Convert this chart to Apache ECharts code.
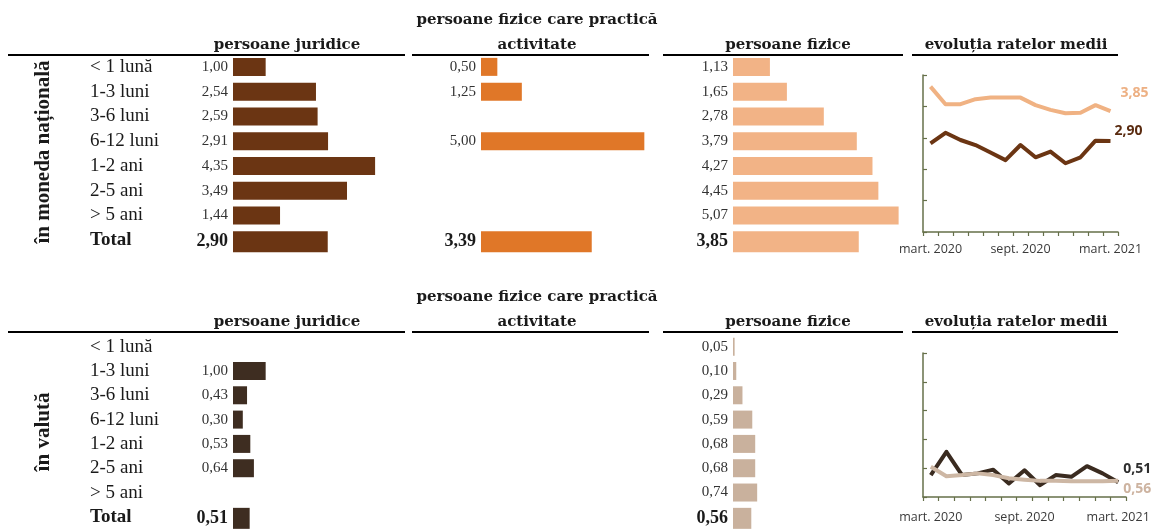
<!DOCTYPE html>
<html>
<head>
<meta charset="utf-8">
<script src="https://cdn.jsdelivr.net/npm/echarts@6/dist/echarts.min.js"></script>
<style>
html,body{margin:0;padding:0;background:#fff;}
#chart{width:1158px;height:529px;}
</style>
</head>
<body>
<div id="chart"></div>
<script>
// ---- data ----
const categories = ['< 1 lună', '1-3 luni', '3-6 luni', '6-12 luni', '1-2 ani', '2-5 ani', '> 5 ani', 'Total'];
const natJuridice = [1.00, 2.54, 2.59, 2.91, 4.35, 3.49, 1.44, 2.90];
const natPractica = [0.50, 1.25, null, 5.00, null, null, null, 3.39];
const natFizice = [1.13, 1.65, 2.78, 3.79, 4.27, 4.45, 5.07, 3.85];
const valJuridice = [null, 1.00, 0.43, 0.30, 0.53, 0.64, null, 0.51];
const valFizice = [0.05, 0.10, 0.29, 0.59, 0.68, 0.68, 0.74, 0.56];
const months = ['mart. 2020', 'apr. 2020', 'mai 2020', 'iun. 2020', 'iul. 2020', 'aug. 2020', 'sept. 2020',
  'oct. 2020', 'nov. 2020', 'dec. 2020', 'ian. 2021', 'feb. 2021', 'mart. 2021'];
const natJuridiceEvol = [2.82, 3.16, 2.93, 2.77, 2.53, 2.29, 2.77, 2.38, 2.56, 2.19, 2.38, 2.91, 2.90];
const natFiziceEvol = [4.63, 4.07, 4.07, 4.23, 4.28, 4.28, 4.28, 4.04, 3.89, 3.78, 3.80, 4.04, 3.85];
const valJuridiceEvol = [0.76, 1.57, 0.76, 0.82, 0.95, 0.47, 0.93, 0.41, 0.76, 0.70, 1.07, 0.82, 0.51];
const valFiziceEvol = [1.05, 0.72, 0.76, 0.82, 0.76, 0.65, 0.60, 0.56, 0.56, 0.55, 0.55, 0.55, 0.56];
const sectionLabels = ['în moneda națională', 'în valută'];
const columnTitles = ['persoane juridice', 'persoane fizice care practică', 'activitate', 'persoane fizice', 'evoluția ratelor medii'];

// ---- styles ----
const C = {
  natJur: '#6B3513', natPra: '#E07728', natFiz: '#F2B386',
  valJur: '#3E2D21', valFiz: '#C9B19D',
  lineNatJur: '#6B3513', lineNatFiz: '#F0B283',
  lineValJur: '#3A2B20', lineValFiz: '#CDB7A4',
  axis: '#66704A'
};
const SERIF = '"Liberation Serif", "Times New Roman", serif';
const TITLE_FONT = '"DejaVu Serif", serif';
const SANS = '"Open Sans", "Liberation Sans", sans-serif';
const fmt = v => v.toFixed(2).replace('.', ',');

const chart = echarts.init(document.getElementById('chart'), null, {renderer: 'canvas'});

const grids = [
  {left: 233, top: 54.5, width: 196, height: 198},
  {left: 481, top: 54.5, width: 196, height: 198},
  {left: 733, top: 54.5, width: 196, height: 198},
  {left: 923, top: 75, width: 195, height: 157},
  {left: 233, top: 334.5, width: 196, height: 196},
  {left: 733, top: 334.5, width: 196, height: 196},
  {left: 923, top: 353, width: 203, height: 144}
];

const xAxes = [], yAxes = [], series = [];
const barGrids = [0, 1, 2, 4, 5];
barGrids.forEach(g => {
  xAxes.push({type: 'value', gridIndex: g, min: 0, max: 6, show: false});
  const showLab = (g === 0 || g === 4);
  yAxes.push({
    type: 'category', gridIndex: g, data: categories, inverse: true,
    axisLine: {show: false}, axisTick: {show: false}, splitLine: {show: false},
    axisLabel: {
      show: showLab, interval: 0, hideOverlap: false, align: 'left', margin: 143,
      fontFamily: SERIF, fontSize: 19, color: '#1a1a1a',
      formatter: v => v === 'Total' ? '{b|Total}' : v,
      rich: {b: {fontFamily: SERIF, fontSize: 19, fontWeight: 'bold', color: '#1a1a1a'}}
    }
  });
});
// line grids
[[3, 11], [6, 14]].forEach(([g, m]) => {
  xAxes.push({
    type: 'category', gridIndex: g, data: months, boundaryGap: true,
    axisLine: {lineStyle: {color: C.axis, width: 1.5}},
    axisTick: {show: true, interval: 0, length: 4, lineStyle: {color: C.axis, width: 1.2}},
    axisLabel: {interval: 5, margin: m, fontFamily: SANS, fontSize: 12.5, color: '#3a3a3a'}
  });
  yAxes.push({
    type: 'value', gridIndex: g, min: 0, max: 5, interval: 1,
    axisLine: {show: true, lineStyle: {color: C.axis, width: 1.5}},
    axisTick: {show: true, inside: true, length: 4, lineStyle: {color: C.axis, width: 1.2}},
    axisLabel: {show: false}, splitLine: {show: false}
  });
});

function addBars(axisIdx, data, color) {
  const regular = data.map((v, i) => i < 7 ? v : null);
  const total = data.map((v, i) => i === 7 ? v : null);
  series.push({
    type: 'bar', xAxisIndex: axisIdx, yAxisIndex: axisIdx, data: total,
    barWidth: 21, barGap: '-100%', itemStyle: {color},
    label: {show: true, position: 'left', distance: 5, formatter: p => fmt(p.value),
      fontFamily: SERIF, fontSize: 18, fontWeight: 'bold', color: '#1a1a1a'}
  });
  series.push({
    type: 'bar', xAxisIndex: axisIdx, yAxisIndex: axisIdx, data: regular,
    barWidth: 18, barGap: '-100%', itemStyle: {color},
    label: {show: true, position: 'left', distance: 5, formatter: p => fmt(p.value),
      fontFamily: SERIF, fontSize: 15, color: '#333'}
  });
}
addBars(0, natJuridice, C.natJur);
addBars(1, natPractica, C.natPra);
addBars(2, natFizice, C.natFiz);
addBars(3, valJuridice, C.valJur);
addBars(4, valFizice, C.valFiz);

function addLine(axisIdx, data, color, labColor, offset) {
  series.push({
    type: 'line', xAxisIndex: axisIdx, yAxisIndex: axisIdx, data,
    symbol: 'none', smooth: false,
    lineStyle: {color, width: 4, join: 'round'},
    endLabel: {show: true, formatter: p => fmt(p.value), offset, distance: 4,
      fontFamily: SANS, fontSize: 14, fontWeight: 'bold', color: labColor}
  });
}
addLine(5, natFiziceEvol, C.lineNatFiz, '#EDB083', [6, -18]);
addLine(5, natJuridiceEvol, C.lineNatJur, '#5A2B10', [0, -10]);
addLine(6, valJuridiceEvol, C.lineValJur, '#2E2E2E', [1, -13]);
addLine(6, valFiziceEvol, C.lineValFiz, '#CDB3A0', [1, 8]);

// ---- header text & rules ----
const graphic = [];
function rule(x1, x2, y) {
  graphic.push({type: 'line', shape: {x1, y1: y, x2, y2: y}, style: {stroke: '#000', lineWidth: 2}, silent: true});
}
function title(text, x, y) {
  graphic.push({type: 'text', x, y, style: {text, fontFamily: TITLE_FONT, fontSize: 15, fontWeight: 'bold',
    fill: '#1a1a1a', align: 'center', verticalAlign: 'middle'}, silent: true});
}
[[55, 0], [332, 277]].forEach(([ry, dy]) => {
  rule(8, 405, ry); rule(412, 649, ry); rule(663, 903, ry); rule(912, 1118, ry);
  title(columnTitles[0], 287, 45 + dy);
  title(columnTitles[1], 537, 20 + dy);
  title(columnTitles[2], 537, 45 + dy);
  title(columnTitles[3], 788, 45 + dy);
  title(columnTitles[4], 1016, 45 + dy);
});
graphic.push({type: 'text', x: 44, y: 152, rotation: Math.PI / 2,
  style: {text: sectionLabels[0], fontFamily: SERIF, fontSize: 21, fontWeight: 'bold', fill: '#1a1a1a',
    align: 'center', verticalAlign: 'middle'}, silent: true});
graphic.push({type: 'text', x: 44, y: 432, rotation: Math.PI / 2,
  style: {text: sectionLabels[1], fontFamily: SERIF, fontSize: 21, fontWeight: 'bold', fill: '#1a1a1a',
    align: 'center', verticalAlign: 'middle'}, silent: true});

chart.setOption({
  animation: false,
  backgroundColor: '#fff',
  grid: grids,
  xAxis: xAxes,
  yAxis: yAxes,
  series,
  graphic
});
</script>
</body>
</html>
